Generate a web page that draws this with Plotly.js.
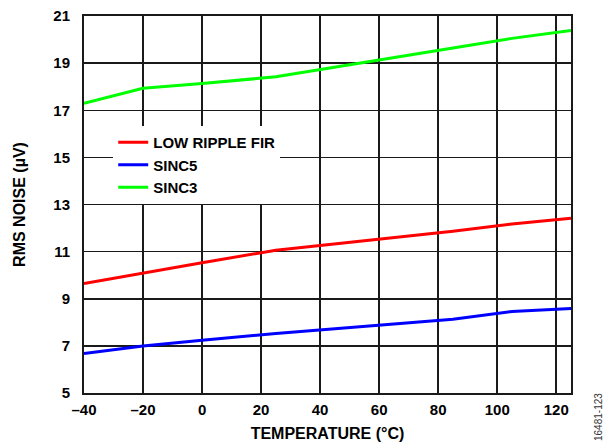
<!DOCTYPE html>
<html>
<head>
<meta charset="utf-8">
<script src="https://cdn.plot.ly/plotly-3.0.1.min.js"></script>
<style>html,body{margin:0;padding:0;background:#fff}#chart{width:614px;height:444px}</style>
</head>
<body>
<div id="chart"></div>
<script>
var temperature = [-40, -20, 0, 25, 85, 105, 125];
var lowRippleFir = [9.65, 10.10, 10.53, 11.06, 11.86, 12.17, 12.42];
var sinc5 = [6.68, 6.99, 7.24, 7.53, 8.13, 8.46, 8.59];
var sinc3 = [17.29, 17.93, 18.13, 18.42, 19.64, 20.05, 20.38];
var xTickVals = [-40, -20, 0, 20, 40, 60, 80, 100, 120];
var xTickText = ['\u201340', '\u201320', '0', '20', '40', '60', '80', '100', '120'];
var yTickVals = [5, 7, 9, 11, 13, 15, 17, 19, 21];

var FONT = 'Liberation Sans, Arial, Helvetica, sans-serif';
var SZ = 15;
var TSZ = 16;

var traces = [
  {x: temperature, y: lowRippleFir, name: 'LOW RIPPLE FIR', mode: 'lines', line: {color: '#ff0000', width: 3}},
  {x: temperature, y: sinc5, name: 'SINC5', mode: 'lines', line: {color: '#0000ff', width: 3}},
  {x: temperature, y: sinc3, name: 'SINC3', mode: 'lines', line: {color: '#00ff00', width: 3}}
];

var layout = {
  width: 614, height: 444,
  margin: {l: 84, r: 43, t: 16, b: 51},
  paper_bgcolor: '#fff', plot_bgcolor: '#fff',
  font: {family: FONT, size: SZ, color: '#000', weight: 'bold'},
  showlegend: true,
  legend: {
    x: 0.06, y: 0.708, xanchor: 'left', yanchor: 'top',
    bgcolor: '#ffffff', borderwidth: 0,
    font: {family: FONT, size: SZ, color: '#000', weight: 'bold'},
    tracegroupgap: 0, itemwidth: 30
  },
  xaxis: {
    range: [-40, 125], tickmode: 'array', tickvals: xTickVals, ticktext: xTickText,
    showgrid: true, gridcolor: '#1a1a1a', gridwidth: 1.5,
    showline: true, linecolor: '#1a1a1a', linewidth: 2, mirror: true,
    zeroline: false, ticks: 'outside', ticklen: 2, tickcolor: 'rgba(0,0,0,0)',
    tickfont: {family: FONT, size: SZ, color: '#000', weight: 'bold'},
    title: {text: 'TEMPERATURE (°C)', standoff: 11, font: {family: FONT, size: TSZ, color: '#000', weight: 'bold'}}
  },
  yaxis: {
    range: [5, 21], tickmode: 'array', tickvals: yTickVals,
    showgrid: true, gridcolor: '#1a1a1a', gridwidth: 1.5,
    showline: true, linecolor: '#1a1a1a', linewidth: 2, mirror: true,
    zeroline: false, ticks: 'outside', ticklen: 9, tickcolor: 'rgba(0,0,0,0)',
    tickfont: {family: FONT, size: SZ, color: '#000', weight: 'bold'},
    title: {text: 'RMS NOISE (µV)', standoff: 24, font: {family: FONT, size: TSZ, color: '#000', weight: 'bold'}}
  },
  annotations: [{
    text: '16481-123', xref: 'paper', yref: 'paper',
    x: (598 - 84) / 487, y: (393 - 417) / 377, xanchor: 'center', yanchor: 'middle', textangle: -90,
    showarrow: false, font: {family: FONT, size: 10, color: '#333', weight: 'normal'}
  }]
};

Plotly.newPlot('chart', traces, layout, {staticPlot: true, displayModeBar: false});
</script>
</body>
</html>
